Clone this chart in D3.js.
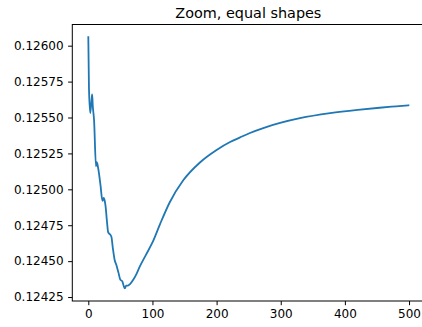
<!DOCTYPE html>
<html>
<head>
<meta charset="utf-8">
<script src="https://cdn.jsdelivr.net/npm/d3@7"></script>
<style>
  body { margin: 0; background: #fff; }
  text { font-family: "DejaVu Sans", sans-serif; }
</style>
</head>
<body>
<div id="chart"></div>
<script>
// values
var steps = [0, 1, 3, 5, 6, 7, 9, 12, 13, 14, 16, 19, 22, 24, 25, 27, 29, 31, 33, 36,
  38, 41, 44, 47, 50, 53, 55, 57, 59, 62, 65, 70, 75, 80, 90, 100, 112, 127, 148, 174,
  200, 221, 236, 252, 275, 299, 330, 377, 420, 454, 480, 499];
var values = [0.12606, 0.12571, 0.12553, 0.12562, 0.12566, 0.12558, 0.12548, 0.12516, 0.12519, 0.12518,
  0.12513, 0.12503, 0.12492, 0.12494, 0.12493, 0.12488, 0.12478, 0.12470, 0.12469, 0.12467,
  0.12460, 0.12451, 0.12447, 0.12442, 0.12437, 0.12436, 0.12433, 0.12431, 0.12433, 0.12433,
  0.12434, 0.12437, 0.12441, 0.12446, 0.124545, 0.12463, 0.12476, 0.12491, 0.125063, 0.125187,
  0.125274, 0.125329, 0.12536, 0.125392, 0.12543, 0.125462, 0.125495, 0.12553, 0.125553, 0.125568,
  0.125578, 0.125585];
var xTicks = [0, 100, 200, 300, 400, 500];
var yTicks = [0.12425, 0.12450, 0.12475, 0.12500, 0.12525, 0.12550, 0.12575, 0.12600];
var title = "Zoom, equal shapes";

var width = 422;
var height = 327;
var margin = { top: 24.5, right: -2.4, bottom: 26, left: 72.3 };
var innerW = width - margin.left - margin.right;
var innerH = height - margin.top - margin.bottom;

var data = steps.map(function(s, i) { return { x: s, y: values[i] }; });

// matplotlib style 5% margins around the data
var xPad = (d3.max(steps) - d3.min(steps)) * 0.05;
var yPad = (d3.max(values) - d3.min(values)) * 0.05;

var x = d3.scaleLinear()
  .domain([d3.min(steps) - xPad, d3.max(steps) + xPad])
  .range([0, innerW]);

var y = d3.scaleLinear()
  .domain([d3.min(values) - yPad, d3.max(values) + yPad])
  .range([innerH, 0]);

var svg = d3.select('#chart')
  .append('svg')
  .attr('width', width)
  .attr('height', height);

var g = svg.append('g')
  .attr('transform', 'translate(' + margin.left + ',' + margin.top + ')');

var line = d3.line()
  .x(function(d) { return x(d.x); })
  .y(function(d) { return y(d.y); })
  .curve(d3.curveMonotoneX);

g.append('path')
  .datum(data)
  .attr('d', line)
  .attr('fill', 'none')
  .attr('stroke', '#1f77b4')
  .attr('stroke-width', 1.8)
  .attr('stroke-linejoin', 'round')
  .attr('stroke-linecap', 'square');

var xAxis = g.append('g')
  .attr('transform', 'translate(0,' + innerH + ')')
  .call(d3.axisBottom(x).tickValues(xTicks).tickSize(4.2).tickPadding(4.5).tickFormat(d3.format('d')));

var yAxis = g.append('g')
  .call(d3.axisLeft(y).tickValues(yTicks).tickSize(4.2).tickPadding(4.5).tickFormat(d3.format('.5f')));

[xAxis, yAxis].forEach(function(a) {
  a.select('.domain').remove();
  a.selectAll('line').attr('stroke', '#000').attr('stroke-width', 1);
  a.selectAll('text')
    .attr('fill', '#000')
    .style('font-size', '12px')
    .style('font-family', '"DejaVu Sans", sans-serif');
});

// axes frame
g.append('rect')
  .attr('x', 0)
  .attr('y', 0)
  .attr('width', innerW)
  .attr('height', innerH)
  .attr('fill', 'none')
  .attr('stroke', '#000')
  .attr('stroke-width', 1);

g.append('text')
  .attr('x', innerW / 2)
  .attr('y', -7)
  .attr('text-anchor', 'middle')
  .style('font-size', '14.4px')
  .attr('fill', '#000')
  .text(title);
</script>
</body>
</html>
